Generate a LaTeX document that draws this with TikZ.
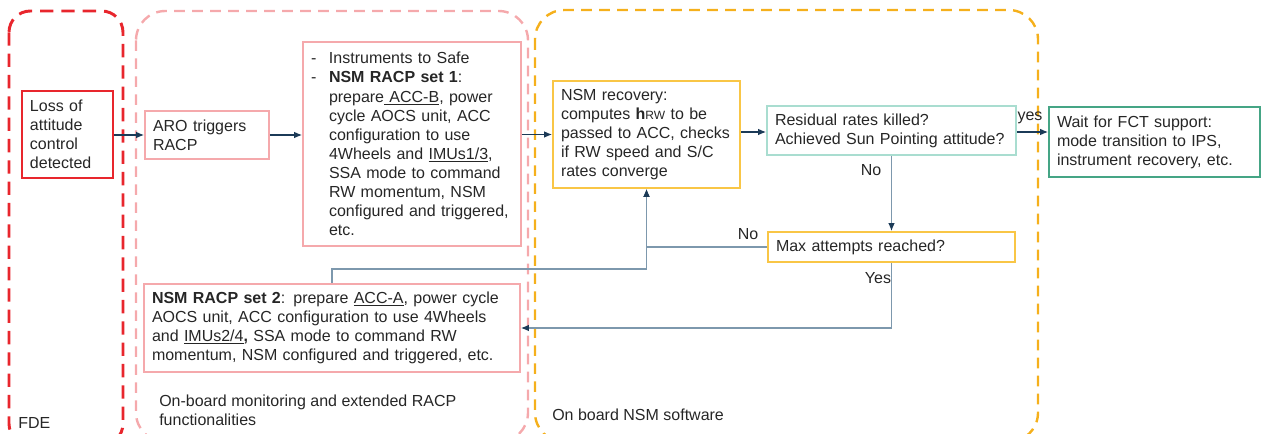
\documentclass[tikz,border=0pt]{standalone}
\usepackage{fontspec}
\setmainfont{Liberation Sans}
\usetikzlibrary{positioning,arrows.meta}
\definecolor{fdered}{HTML}{E8262D}
\definecolor{racppink}{HTML}{F5A9AC}
\definecolor{nsmgold}{HTML}{F5B01C}
\definecolor{boxgold}{HTML}{F9C646}
\definecolor{resteal}{HTML}{A9DDD0}
\definecolor{waitgreen}{HTML}{45A585}
\definecolor{navy}{HTML}{1B3A57}
\definecolor{steel}{HTML}{7D98AD}

\begin{document}
\begin{tikzpicture}[x=0.75pt, y=-0.75pt,
  every node/.style = {font=\fontsize{12}{14.3}\selectfont, inner sep=0pt, text=black!85},
  blk/.style = {draw, rectangle, align=left, inner xsep=6pt, inner ysep=2pt, line width=1.4pt},
  area/.style = {line width=1.8pt, dash pattern=on 8pt off 5.5pt, rounded corners=22pt},
  arr/.style = {draw=navy, line width=0.9pt, -{Latex[length=6pt,width=5pt]}},
  back/.style = {draw=steel, line width=0.9pt, -{Latex[length=6pt,width=5pt,color=navy]}}
]
\clip (0,0) rectangle (1261,434);

% dashed areas
\draw[area, draw=fdered, line width=2.2pt, dash pattern=on 10pt off 6pt, rounded corners=16pt] (9,11) rectangle (123,445);
\draw[area, draw=racppink] (136,11) rectangle (528,442);
\draw[area, draw=nsmgold] (535,10) rectangle (1038,442);

\node[anchor=west] (fde) at (18,423) {FDE};
\node[anchor=north west, align=left] (racplbl) at (159,395) {On-board monitoring and extended RACP\\functionalities};
\node[anchor=west] (nsmlbl) at (552,415) {On board NSM software};

% boxes
\node[blk, draw=fdered, line width=1.8pt, minimum width=68.25pt, minimum height=65.25pt, text width=56.25pt] (loss) at (67.5,134.5)
  {Loss of\\attitude\\control\\detected};
\node[blk, draw=racppink, minimum width=93pt, minimum height=36pt, text width=81pt] (aro) at (207,135)
  {ARO triggers\\RACP};
\node[blk, draw=racppink, minimum width=163.5pt, minimum height=153pt, text width=151.5pt] (set1) at (412,144)
  {\makebox[13.5pt][l]{-}Instruments to Safe\\
   \makebox[13.5pt][l]{-}\textbf{NSM RACP set 1}:\\
   \hspace*{13.5pt}prepare\underline{ ACC-B}, power\\
   \hspace*{13.5pt}cycle AOCS unit, ACC\\
   \hspace*{13.5pt}configuration to use\\
   \hspace*{13.5pt}4Wheels and \underline{IMUs1/3},\\
   \hspace*{13.5pt}SSA mode to command\\
   \hspace*{13.5pt}RW momentum, NSM\\
   \hspace*{13.5pt}configured and triggered,\\
   \hspace*{13.5pt}etc.};
\node[blk, draw=boxgold, minimum width=140.25pt, minimum height=80.25pt, text width=128.25pt] (nsm) at (646.5,134.5)
  {NSM recovery:\\computes \textbf{h}{\fontsize{9}{10}\selectfont RW} to be\\passed to ACC, checks\\if RW speed and S/C\\rates converge};
\node[blk, draw=resteal, minimum width=186.75pt, minimum height=36.75pt, text width=174.75pt] (res) at (891.5,130.5)
  {Residual rates killed?\\Achieved Sun Pointing attitude?};
\node[blk, draw=waitgreen, minimum width=158.25pt, minimum height=52.5pt, text width=146.25pt] (wait) at (1154.5,142)
  {Wait for FCT support:\\mode transition to IPS,\\instrument recovery, etc.};
\node[blk, draw=boxgold, minimum width=185.25pt, minimum height=22.5pt, text width=173.25pt] (max) at (891.5,247)
  {Max attempts reached?};
\node[blk, draw=racppink, minimum width=282pt, minimum height=66pt, text width=270pt] (set2) at (332,328)
  {\textbf{NSM RACP set 2}: prepare \underline{ACC-A}, power cycle\\
   AOCS unit, ACC configuration to use 4Wheels\\
   and \underline{IMUs2/4}\textbf{,} SSA mode to command RW\\
   momentum, NSM configured and triggered, etc.};

\coordinate (merge) at (646.5,269);

% connectors
\draw[arr] (loss.east |- aro.west) -- (aro.west);
\draw[arr] (aro.east) -- (aro.east -| set1.west);
\draw[arr] (nsm.west -| set1.east) -- (nsm.west);
\draw[arr] (nsm.east |- 0,132) -- (res.west |- 0,132);
\draw[arr] (res.east |- 0,132) -- (wait.west |- 0,132);
\draw[back] (res.south) -- (max.north);
\draw[back] (max.west) -| (nsm.south);
\draw[back] (set2.north) |- (merge) -- (nsm.south);
\draw[back] (max.south) |- (set2.east);

% labels
\node (yeslbl) at (1030,118) {yes};
\node (nolbl) at (871,170) {No};
\node (nolbl2) at (748,234) {No};
\node (yeslbl2) at (878,278) {Yes};
\end{tikzpicture}
\end{document}
